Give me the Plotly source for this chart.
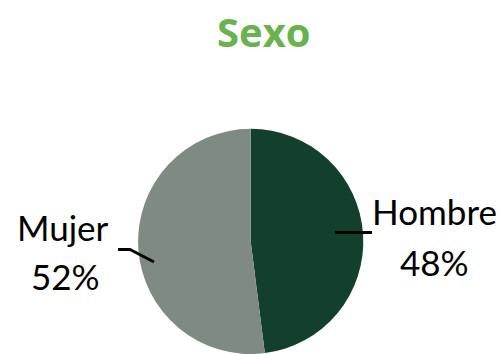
import plotly.graph_objects as go

# Survey breakdown by sex
labels = ["Hombre", "Mujer"]
shares = [48, 52]
colors = ["#12402c", "#7f8b82"]

W, H = 503, 354


def px(x, y):
    """Pixel position -> paper coordinates."""
    return x / W, 1 - y / H


fig = go.Figure()

# Pie placed so its circle sits at (251, 242) with radius ~112 px
cx, cy, r = 250.7, 241.7, 112.6
fig.add_trace(go.Pie(
    labels=labels,
    values=shares,
    marker=dict(colors=colors, line=dict(width=0)),
    sort=False,
    direction="clockwise",
    rotation=0,
    textinfo="none",
    hoverinfo="label+percent",
    showlegend=False,
    domain=dict(x=[(cx - r) / W, (cx + r) / W], y=[0, 2 * r / H]),
))

label_font = dict(family="Lato", size=35, color="#000000")

# Label layout (pixel positions of each text block and leader line)
label_layout = {
    "Hombre": dict(name_xy=(434, 211), pct_xy=(434, 262),
                   line=[(335, 232.5), (372, 232.5)]),
    "Mujer": dict(name_xy=(63, 227), pct_xy=(65, 276),
                  line=[(118, 249.5), (130, 249.5), (154, 262)]),
}

total = sum(shares)
for lab, val in zip(labels, shares):
    lay = label_layout[lab]
    pct = f"{round(100 * val / total)}%"
    for txt, (x, y) in ((lab, lay["name_xy"]), (pct, lay["pct_xy"])):
        ax, ay = px(x, y)
        fig.add_annotation(x=ax, y=ay, xref="paper", yref="paper", text=txt,
                           showarrow=False, xanchor="center", yanchor="middle",
                           font=label_font)
    pts = lay["line"]
    path = "M " + " L ".join(f"{px(x, y)[0]},{px(x, y)[1]}" for x, y in pts)
    fig.add_shape(type="path", path=path, xref="paper", yref="paper",
                  line=dict(color="#000000", width=2.8))

tx, ty = px(264, 31)
fig.add_annotation(x=tx, y=ty, xref="paper", yref="paper", text="<b>Sexo</b>",
                   showarrow=False, xanchor="center", yanchor="middle",
                   font=dict(family="Open Sans", size=40, color="#6ab24d"))

fig.update_layout(
    width=W, height=H,
    margin=dict(l=0, r=0, t=0, b=0),
    paper_bgcolor="#ffffff",
    plot_bgcolor="#ffffff",
)

fig.write_html("out.html")
